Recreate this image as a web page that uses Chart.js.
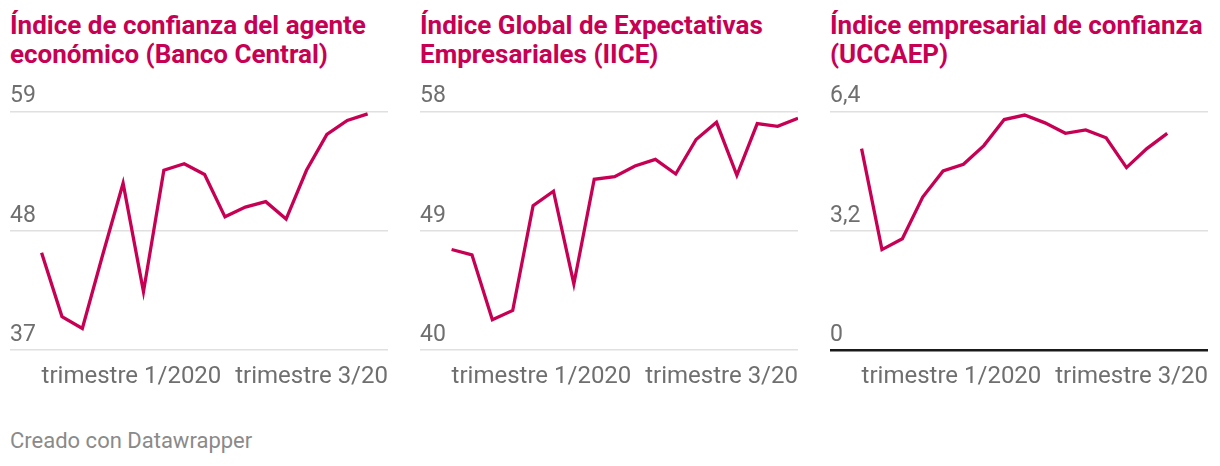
<!DOCTYPE html>
<html>
<head>
<meta charset="utf-8">
<script src="https://cdn.jsdelivr.net/npm/chart.js@4"></script>
<style>
  html, body { margin: 0; padding: 0; background: #fff; }
  body { width: 1220px; height: 466px; position: relative; overflow: hidden; font-family: Roboto, sans-serif; }
  .title { position: absolute; top: 11px; font-family: Roboto, sans-serif; font-weight: 700; font-size: 26px; line-height: 29px; color: #c70053; white-space: nowrap; }
  canvas { position: absolute; top: 80px; }
  .footer { position: absolute; left: 10px; top: 430px; font-size: 22px; line-height: 22px; color: #8a8a8a; white-space: nowrap; }
</style>
</head>
<body>
<div class="title" style="left:10px">Índice de confianza del agente<br>económico (Banco Central)</div>
<div class="title" style="left:420px">Índice Global de Expectativas<br>Empresariales (IICE)</div>
<div class="title" style="left:830px">Índice empresarial de confianza<br>(UCCAEP)</div>
<canvas id="c1" width="378" height="311" style="left:10px"></canvas>
<canvas id="c2" width="378" height="311" style="left:420px"></canvas>
<canvas id="c3" width="378" height="311" style="left:830px"></canvas>
<div class="footer">Creado con Datawrapper</div>
<script>
// ---- Data ----
const xTickIndex = [0, 17];
const xTickLabels = ["trimestre 1/2020", "trimestre 3/20"];

const bancoCentral = [46.0, 40.1, 39.0, 45.8, 52.4, 42.4, 53.6, 54.2, 53.2, 49.3, 50.2, 50.7, 49.1, 53.6, 56.9, 58.2, 58.8];
const iice = [47.6, 47.2, 42.3, 43.0, 50.9, 52.0, 45.0, 52.9, 53.1, 53.9, 54.4, 53.3, 55.9, 57.2, 53.2, 57.1, 56.9, 57.5];
const uccaep = [5.41, 2.70, 2.99, 4.11, 4.81, 4.99, 5.49, 6.19, 6.31, 6.10, 5.82, 5.91, 5.70, 4.90, 5.41, 5.82];

const yTicksBanco = [37, 48, 59];
const yTicksIice = [40, 49, 58];
const yTicksUccaep = [0, 3.2, 6.4];

// ---- Chart setup ----
Chart.defaults.font.family = 'Roboto';
const LINE = '#c70053';

function makeChart(id, values, yTicks, zeroBaseline) {
  new Chart(document.getElementById(id), {
    type: 'line',
    data: {
      datasets: [{
        data: values.map((v, i) => ({ x: i, y: v })),
        borderColor: LINE,
        borderWidth: 3.3,
        pointRadius: 0,
        tension: 0,
        fill: false
      }]
    },
    options: {
      responsive: false,
      animation: false,
      devicePixelRatio: 1,
      layout: { padding: { top: 31.7, left: 0, right: 0, bottom: 0 } },
      plugins: { legend: { display: false }, tooltip: { enabled: false } },
      scales: {
        x: {
          type: 'linear',
          min: -1.55,
          max: 17,
          border: { display: false },
          grid: { display: false, drawTicks: true, tickLength: 12 },
          afterBuildTicks: (s) => { s.ticks = xTickIndex.map(v => ({ value: v })); },
          ticks: {
            align: 'inner',
            padding: 0,
            autoSkip: false,
            maxRotation: 0,
            color: '#6f6f6f',
            font: { size: 24 },
            callback: (v, i) => xTickLabels[i]
          }
        },
        y: {
          min: yTicks[0],
          max: yTicks[yTicks.length - 1],
          border: { display: false },
          afterBuildTicks: (s) => { s.ticks = yTicks.map(v => ({ value: v })); },
          grid: {
            drawTicks: false,
            color: (ctx) => (zeroBaseline && ctx.tick && ctx.tick.value === 0) ? '#1a1a1a' : '#e0e0e0',
            lineWidth: (ctx) => (zeroBaseline && ctx.tick && ctx.tick.value === 0) ? 2.5 : 1.5
          },
          ticks: {
            mirror: true,
            padding: 0,
            labelOffset: -15,
            color: '#6f6f6f',
            font: { size: 23 },
            callback: (v) => String(v).replace('.', ',')
          }
        }
      }
    }
  });
}

makeChart('c1', bancoCentral, yTicksBanco, false);
makeChart('c2', iice, yTicksIice, false);
makeChart('c3', uccaep, yTicksUccaep, true);
</script>
</body>
</html>
